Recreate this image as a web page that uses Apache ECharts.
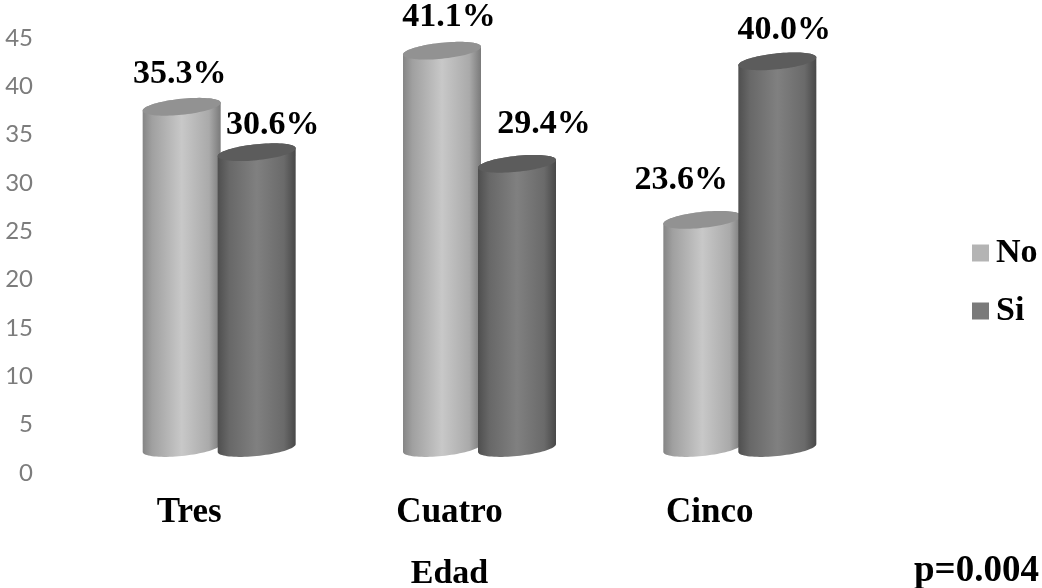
<!DOCTYPE html>
<html>
<head>
<meta charset="utf-8">
<style>html,body{margin:0;padding:0;background:#fff}#chart{width:1042px;height:588px}</style>
<script src="https://cdn.jsdelivr.net/npm/echarts@6/dist/echarts.min.js"></script>
</head>
<body>
<div id="chart"></div>
<script>
// Percentages by age group, split by answer
const categories = ['Tres', 'Cuatro', 'Cinco'];
const noValues = [35.3, 41.1, 23.6];
const siValues = [30.6, 29.4, 40.0];
const yTickStep = 5;
const yMax = 45;

// Cylinder drawing settings
const RADIUS_X = 39, RADIUS_Y = 8, TILT = 0.1;
const DEPTH_X = 30, DEPTH_Y = -25;   // projection of the 3D depth axis
const serifFont = '"Liberation Serif","Times New Roman",serif';

// Per-bar label nudges, in pixels, relative to the top of each cylinder
const noLabelNudge = [[-2, -33], [7, -33], [-21, -40]];
const siLabelNudge = [[16, -27], [27, -40], [7, -31]];

const g = (stops) => new echarts.graphic.LinearGradient(0, 0, 1, 0,
  stops.map(([offset, color]) => ({ offset, color })));

const noBody = () => g([[0, '#858585'], [0.12, '#a0a0a0'], [0.5, '#c8c8c8'], [0.85, '#aaaaaa'], [1, '#7a7a7a']]);
const siBody = () => g([[0, '#4f4f4f'], [0.15, '#686868'], [0.5, '#808080'], [0.85, '#6a6a6a'], [1, '#484848']]);

function ellipsePoint(cx, cy, t) {
  return [cx + RADIUS_X * Math.cos(t),
          cy + RADIUS_Y * Math.sin(t) - TILT * RADIUS_X * Math.cos(t)];
}

function cylinderSeries(name, values, side, legendColor, bodyFill, capFill, nudges) {
  return {
    type: 'custom',
    name,
    coordinateSystem: 'cartesian2d',
    itemStyle: { color: legendColor },
    encode: { x: 0, y: 1 },
    data: values.map((v, i) => [i, v]),
    renderItem(params, api) {
      const i = api.value(0), v = api.value(1);
      const base = api.coord([i, 0]);
      const top = api.coord([i, v]);
      const cx = base[0] + DEPTH_X + side * 37.5;
      const yBase = base[1] + DEPTH_Y;
      const yTop = top[1] + DEPTH_Y;

      const body = [];
      for (let k = 0; k <= 40; k++) body.push(ellipsePoint(cx, yBase, Math.PI * k / 40));
      body.push(ellipsePoint(cx, yTop, Math.PI));
      for (let k = 1; k < 40; k++) body.push(ellipsePoint(cx, yTop, Math.PI + Math.PI * k / 40));
      body.push(ellipsePoint(cx, yTop, 0));

      const cap = [];
      for (let k = 0; k < 80; k++) cap.push(ellipsePoint(cx, yTop, 2 * Math.PI * k / 80));

      const nudge = nudges[i];
      return {
        type: 'group',
        children: [
          { type: 'polygon', shape: { points: body }, style: { fill: bodyFill() } },
          { type: 'polygon', shape: { points: cap }, style: { fill: capFill } },
          {
            type: 'text',
            style: {
              x: cx + nudge[0], y: yTop + nudge[1],
              text: v.toFixed(1) + '%',
              font: 'bold 34px ' + serifFont,
              fill: '#000',
              align: 'center',
              verticalAlign: 'middle'
            }
          }
        ]
      };
    }
  };
}

const chart = echarts.init(document.getElementById('chart'), null, { renderer: 'canvas' });
chart.setOption({
  animation: false,
  backgroundColor: '#fff',
  grid: { left: 59, width: 781, top: 38, height: 435, outerBoundsMode: 'none' },
  title: {
    text: 'p=0.004',
    left: 914, top: 553,
    padding: 0,
    textStyle: { fontFamily: serifFont, fontWeight: 'bold', fontSize: 37, color: '#000' }
  },
  legend: {
    orient: 'vertical',
    left: 972, top: 236,
    padding: 0,
    itemWidth: 17, itemHeight: 17,
    itemGap: 24,
    icon: 'rect',
    selectedMode: false,
    data: ['No', 'Si'],
    textStyle: { fontFamily: serifFont, fontWeight: 'bold', fontSize: 34, color: '#000', padding: [0, 0, 0, 2] }
  },
  xAxis: {
    type: 'category',
    data: categories,
    name: 'Edad',
    nameLocation: 'middle',
    nameGap: 84,
    nameTextStyle: { fontFamily: serifFont, fontWeight: 'bold', fontSize: 34, color: '#000' },
    axisLine: { show: false },
    axisTick: { show: false },
    axisLabel: { margin: 22, fontFamily: serifFont, fontWeight: 'bold', fontSize: 35, color: '#000' }
  },
  yAxis: {
    type: 'value',
    min: 0, max: yMax, interval: yTickStep,
    splitLine: { show: false },
    axisLine: { show: false },
    axisTick: { show: false },
    axisLabel: { margin: 26, fontFamily: 'Lato, "Open Sans", sans-serif', fontSize: 24, color: '#7c7c7c' }
  },
  series: [
    cylinderSeries('No', noValues, -1, '#b4b4b4', noBody, '#929292', noLabelNudge),
    cylinderSeries('Si', siValues, 1, '#7a7a7a', siBody, '#5c5c5c', siLabelNudge)
  ]
});
</script>
</body>
</html>
